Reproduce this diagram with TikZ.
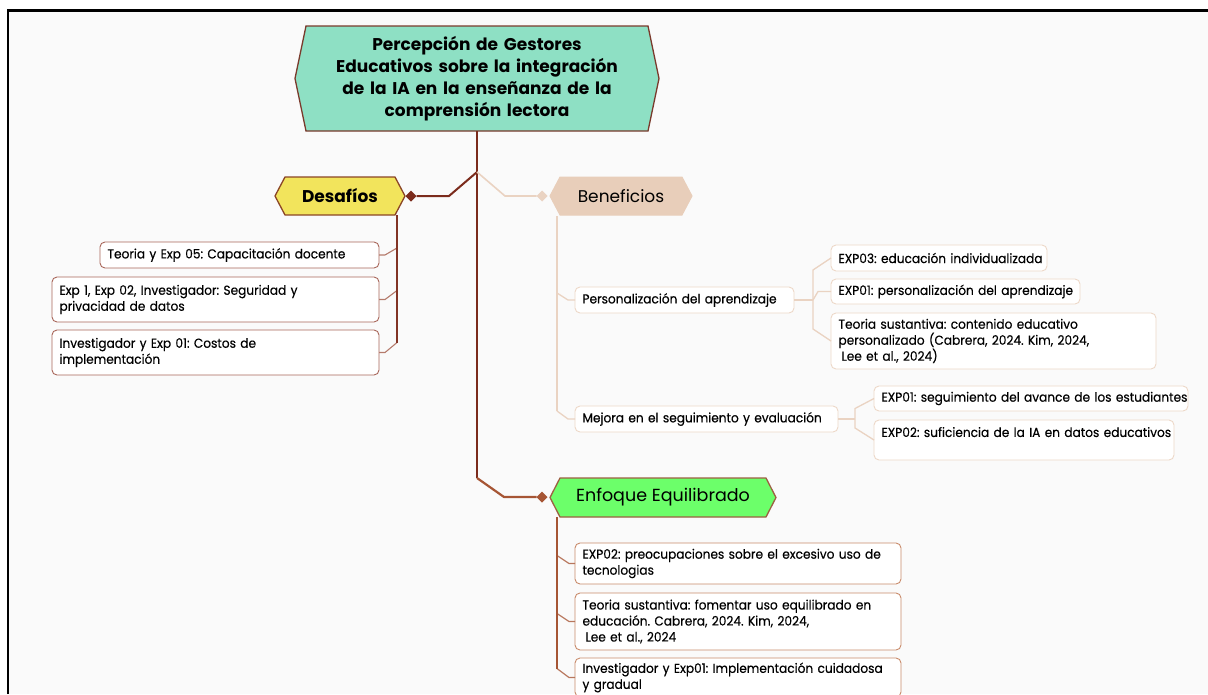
\documentclass[tikz,border=0pt]{standalone}
\usepackage{fontspec}
\setmainfont{Poppins}
\newfontfamily\leaffont{Poppins}[FakeStretch=0.935, FakeBold=0.35]
\usetikzlibrary{shapes.geometric,backgrounds}
\definecolor{bgin}{HTML}{FAFAFA}
\definecolor{rootfill}{HTML}{8EE0C4}
\definecolor{rootdraw}{HTML}{7A3A2C}
\definecolor{trunkc}{HTML}{7B2B1C}
\definecolor{desfill}{HTML}{F2E45C}
\definecolor{desdraw}{HTML}{8B4526}
\definecolor{dconc}{HTML}{B57B6C}
\definecolor{dboxc}{HTML}{A8665A}
\definecolor{benfill}{HTML}{E8CEBA}
\definecolor{blinec}{HTML}{EAD3C2}
\definecolor{bboxc}{HTML}{EDD8C8}
\definecolor{enffill}{HTML}{6CFF6A}
\definecolor{enfdraw}{HTML}{9C6042}
\definecolor{elinec}{HTML}{A65534}
\definecolor{eboxc}{HTML}{C98B6B}
\newcommand\hexof[2]{(#1.west) -- ([xshift=#2pt]#1.north west) -- ([xshift=-#2pt]#1.north east) -- (#1.east) -- ([xshift=-#2pt]#1.south east) -- ([xshift=#2pt]#1.south west) -- cycle}
\newcommand\lineof[1]{\mbox{#1}}
\tikzset{
  hexlabel/.style={inner sep=0pt, outer sep=0pt, align=center},
  rootlabel/.style={hexlabel, font=\fontsize{17}{22}\selectfont\bfseries, text width=350pt},
  toplabel/.style={hexlabel, font=\fontsize{17}{19}\selectfont},
  knob/.style={diamond, inner sep=0pt, outer sep=0pt, minimum width=11pt, minimum height=11pt},
  leaf/.style={draw, fill=white, rounded corners=5pt, line width=0.9pt, anchor=north west,
     inner xsep=7.5pt, inner ysep=0pt, outer sep=0pt, align=left,
     font=\leaffont\fontsize{13}{16}\selectfont},
  dleaf/.style={leaf, draw=dboxc},
  bleaf/.style={leaf, draw=bboxc},
  eleaf/.style={leaf, draw=eboxc},
  trunk/.style={draw=trunkc, line width=2pt},
  dspine/.style={draw=trunkc!85!dboxc, line width=1.8pt},
  dcon/.style={draw=dconc, line width=1.1pt},
  bcon/.style={draw=blinec, line width=1.3pt},
  espine/.style={draw=elinec, line width=2pt},
  econ/.style={draw=elinec!80!white, line width=1.2pt},
}
\begin{document}
\frenchspacing
\begin{tikzpicture}[x=1pt,y=-1pt]
\useasboundingbox (0,0) rectangle (1208,694);

% main nodes
\node[rootlabel, minimum width=364pt, minimum height=105pt] (root) at (477,78.5)
  {Percepción de Gestores\\Educativos sobre la integración\\de la IA en la enseñanza de la\\comprensión lectora};
\node[toplabel, font=\fontsize{17}{19}\selectfont\bfseries, minimum width=130pt, minimum height=38pt] (des) at (340,196) {Desafíos};
\node[toplabel, minimum width=142pt, minimum height=38pt] (ben) at (621,196) {Beneficios};
\node[toplabel, font=\fontsize{17.5}{19}\selectfont, minimum width=226pt, minimum height=39pt] (enf) at (663,497.5) {Enfoque Equilibrado};

\begin{scope}[on background layer]
\fill[white] (0,0) rectangle (1208,694);
\fill[bgin] (8,11) rectangle (1208,694);
\draw[black, line width=2.6pt] (8,694) -- (8,10.5) -- (1208,10.5);
\path[fill=rootfill, draw=rootdraw, line width=1.3pt] \hexof{root}{11};
\path[fill=desfill, draw=desdraw, line width=1.3pt] \hexof{des}{10};
\path[fill=benfill, draw=benfill, line width=1pt] \hexof{ben}{10};
\path[fill=enffill, draw=enfdraw, line width=1.3pt] \hexof{enf}{10};
\end{scope}

% knobs
\node[knob, fill=trunkc] (dk) at (411,196) {};
\node[knob, fill=blinec] (bk) at (542,196) {};
\node[knob, fill=elinec] (ek) at (542,497) {};

\coordinate (j1) at (477,172);
\coordinate (j2) at (477,478);

% trunk and branches
\draw[trunk] (root.south) -- (j2);
\draw[trunk] (j1) -- ++(-28,24) -- (dk);
\draw[bcon, line width=1.6pt] (j1) -- ++(28,24) -- (bk);
\draw[espine, line width=2.2pt] (j2) -- ++(27,19) -- (ek);

% Desafios leaves
\node[dleaf, minimum width=279pt, minimum height=26pt, text width=264pt] (d1) at (100,242) {\lineof{Teoria y Exp 05: Capacitación docente}};
\node[dleaf, minimum width=327pt, minimum height=45pt, text width=312pt] (d2) at (52,277) {\lineof{Exp 1, Exp 02, Investigador: Seguridad y}\\\lineof{privacidad de datos}};
\node[dleaf, minimum width=327pt, minimum height=45pt, text width=312pt] (d3) at (52,330) {\lineof{Investigador y Exp 01: Costos de}\\\lineof{implementación}};
\coordinate (dsp) at (397,215);
\draw[dcon] (d1.east) -- ++(6,0) -- ++(12,-7);
\draw[dcon] (d2.east) -- ++(6,0) -- ++(12,-9);
\draw[dcon] (d3.east) -- ++(6,0) -- ++(12,-10) coordinate (d3j);
\draw[dspine] (dsp) -- (d3j);

% Beneficios leaves
\node[bleaf, minimum width=219pt, minimum height=26pt, text width=204pt] (pers) at (575,287) {\lineof{Personalización del aprendizaje}};
\node[bleaf, minimum width=263pt, minimum height=26pt, text width=248pt] (mej) at (575,406) {\lineof{Mejora en el seguimiento y evaluación}};
\coordinate (bsp) at (557,216);
\draw[bcon] (pers.west) -- ++(-7,0) -- ++(-11,-7);
\draw[bcon] (mej.west) -- ++(-7,0) -- ++(-11,-8) coordinate (mj);
\draw[bcon] (bsp) -- (mj);

\node[bleaf, minimum width=216pt, minimum height=26pt, text width=201pt] (x3) at (831,245) {\lineof{EXP03: educación individualizada}};
\node[bleaf, minimum width=249pt, minimum height=25pt, text width=234pt] (x1) at (831,279) {\lineof{EXP01: personalización del aprendizaje}};
\node[bleaf, minimum width=325pt, minimum height=56pt, text width=310pt] (ts) at (831,313) {\lineof{Teoria sustantiva: contenido educativo}\\\lineof{personalizado (Cabrera, 2024. Kim, 2024,}\\\lineof{\hspace*{3pt}Lee et al., 2024)}};
\draw[bcon] (pers.east) -- ++(19,0) coordinate (ps);
\draw[bcon] (x3.west) -- ++(-18,12) |- (ps);
\draw[bcon] (x1.west) -- ++(-13,0) -- (ps);
\draw[bcon] (ts.west) -- ++(-18,-12) |- (ps);

\node[bleaf, minimum width=314pt, minimum height=25pt, text width=299pt] (s1) at (874,386) {\lineof{EXP01: seguimiento del avance de los estudiantes}};
\node[bleaf, minimum width=300pt, minimum height=40pt, text width=285pt] (s2) at (874,420) {\lineof{EXP02: suficiencia de la IA en datos educativos}\\\mbox{}};
\draw[bcon] (mej.east) -- ++(17,0) coordinate (ms);
\draw[bcon] (s1.west) -- ++(-19,10) |- (ms);
\draw[bcon] (s2.west) -- ++(-19,-12) |- (ms);

% Enfoque leaves
\node[eleaf, minimum width=326pt, minimum height=41pt, text width=311pt] (f1) at (575,543) {\lineof{EXP02: preocupaciones sobre el excesivo uso de}\\\lineof{tecnologias}};
\node[eleaf, minimum width=326pt, minimum height=57pt, text width=311pt] (f2) at (575,593) {\lineof{Teoria sustantiva: fomentar uso equilibrado en}\\\lineof{educación. Cabrera, 2024. Kim, 2024,}\\\lineof{\hspace*{3pt}Lee et al., 2024}};
\node[eleaf, minimum width=326pt, minimum height=39pt, text width=311pt] (f3) at (575,658) {\lineof{Investigador y Exp01: Implementación cuidadosa}\\\lineof{y gradual}};
\coordinate (esp) at (557,517);
\draw[econ] (f1.west) -- ++(-6,0) -- ++(-12,-8);
\draw[econ] (f2.west) -- ++(-6,0) -- ++(-12,-8);
\draw[econ] (f3.west) -- ++(-6,0) -- ++(-12,-9) coordinate (fj);
\draw[espine] (esp) -- (fj);
\end{tikzpicture}
\end{document}
